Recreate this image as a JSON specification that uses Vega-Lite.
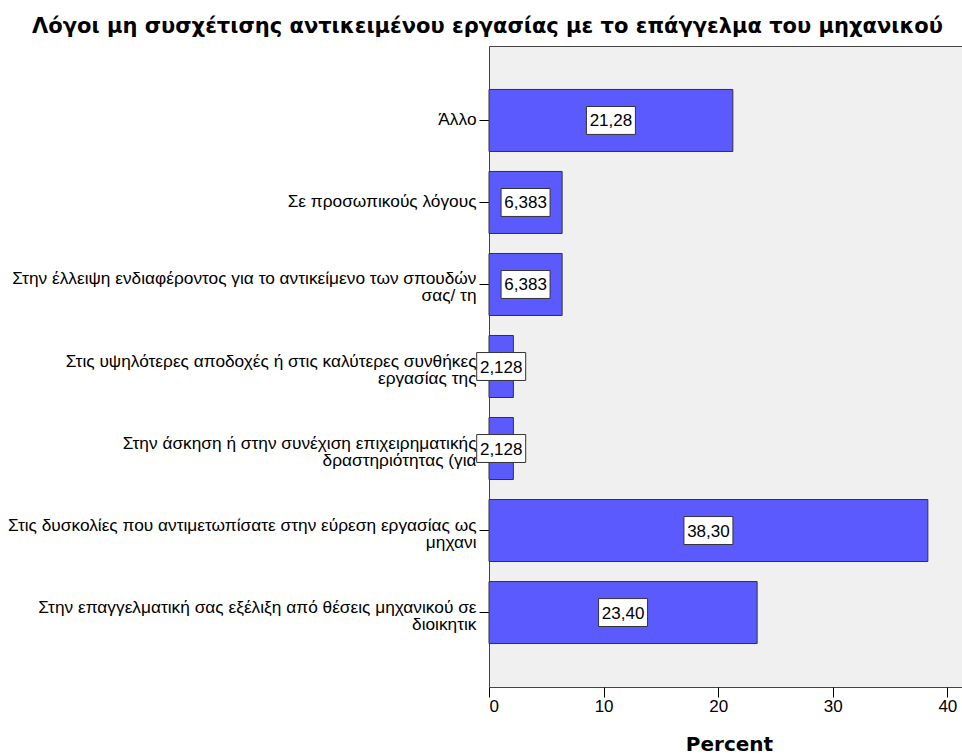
{
  "$schema": "https://vega.github.io/schema/vega-lite/v6.json",
  "autosize": {"type": "none"},
  "width": 473,
  "height": 641,
  "padding": {"left": 489, "top": 46, "right": 0, "bottom": 68},
  "background": "white",
  "title": {
    "text": "Λόγοι μη συσχέτισης αντικειμένου εργασίας με το επάγγελμα του μηχανικού",
    "anchor": "middle",
    "frame": "group",
    "dx": -238,
    "offset": -8,
    "baseline": "alphabetic",
    "font": "DejaVu Sans",
    "fontSize": 21,
    "fontWeight": "bold",
    "color": "#000000"
  },
  "config": {
    "view": {"fill": "#f0f0f0", "stroke": "#444444", "strokeWidth": 1},
    "axis": {"labelFont": "Liberation Sans", "titleFont": "DejaVu Sans", "labelColor": "#000000", "titleColor": "#000000", "tickColor": "#000000", "domain": false, "grid": false}
  },
  "data": {
    "values": [
      {"cat": "Άλλο", "value": 21.28, "label": "21,28"},
      {"cat": "Σε προσωπικούς λόγους", "value": 6.383, "label": "6,383"},
      {"cat": "Στην έλλειψη ενδιαφέροντος για το αντικείμενο των σπουδών|σας/ τη", "value": 6.383, "label": "6,383"},
      {"cat": "Στις υψηλότερες αποδοχές ή στις καλύτερες συνθήκες|εργασίας της", "value": 2.128, "label": "2,128"},
      {"cat": "Στην άσκηση ή στην συνέχιση επιχειρηματικής|δραστηριότητας (για", "value": 2.128, "label": "2,128"},
      {"cat": "Στις δυσκολίες που αντιμετωπίσατε στην εύρεση εργασίας ως|μηχανι", "value": 38.30, "label": "38,30"},
      {"cat": "Στην επαγγελματική σας εξέλιξη από θέσεις μηχανικού σε|διοικητικ", "value": 23.40, "label": "23,40"}
    ]
  },
  "encoding": {
    "y": {
      "field": "cat",
      "type": "nominal",
      "sort": null,
      "scale": {"paddingInner": 0.244, "paddingOuter": 0.53},
      "axis": {
        "title": null,
        "labelExpr": "split(datum.label, '|')",
        "labelFontSize": 17.3,
        "labelLineHeight": 17,
        "labelLimit": 0,
        "tickSize": 10,
        "labelPadding": 3,
        "labelBaseline": {"condition": {"test": "indexof(datum.value, '|') >= 0", "value": "alphabetic"}, "value": "middle"}
      }
    }
  },
  "layer": [
    {
      "mark": {"type": "bar", "fill": "#5a5aff", "stroke": "#333333", "strokeWidth": 1},
      "encoding": {
        "x": {
          "field": "value",
          "type": "quantitative",
          "scale": {"domain": [0, 41.28], "nice": false, "zero": true},
          "axis": {
            "title": "Percent",
            "values": [0, 10, 20, 30, 40],
            "labelFontSize": 17,
            "tickSize": 10,
            "labelPadding": 1,
            "titleFontSize": 20,
            "titleFontWeight": "bold",
            "titlePadding": 20,
            "titleX": 240,
            "format": "d"
          }
        }
      }
    },
    {
      "mark": {"type": "point", "shape": "M-1,-0.57H1V0.57H-1Z", "size": 2401, "filled": true, "fill": "#ffffff", "stroke": "#333333", "strokeWidth": 1, "opacity": 1},
      "encoding": {
        "x": {"field": "value", "type": "quantitative", "scale": {"domain": [0, 82.56], "nice": false, "zero": true}, "axis": null}
      }
    },
    {
      "mark": {"type": "text", "font": "Liberation Sans", "fontSize": 17, "color": "#000000", "align": "center", "baseline": "middle", "dy": 1},
      "encoding": {
        "x": {"field": "value", "type": "quantitative", "scale": {"domain": [0, 82.56], "nice": false, "zero": true}, "axis": null},
        "text": {"field": "label"}
      }
    }
  ],
  "resolve": {"scale": {"x": "independent"}}
}
